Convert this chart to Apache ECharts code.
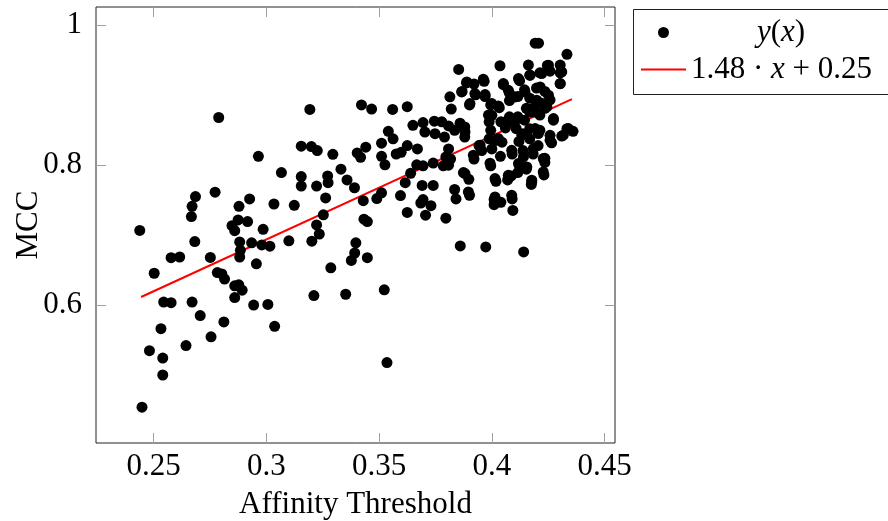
<!DOCTYPE html>
<html>
<head>
<meta charset="utf-8">
<script src="https://cdn.jsdelivr.net/npm/echarts@6/dist/echarts.min.js"></script>
<style>
  html, body { margin: 0; padding: 0; background: #fff; }
  #chart { width: 888px; height: 521px; }
</style>
</head>
<body>
<div id="chart"></div>
<script>
// affinity threshold (x) and MCC (y) of every run
var xs = [
  0.2439, 0.2449, 0.2482, 0.2503, 0.2533, 0.2541, 0.2541, 0.2545, 0.2578, 0.2578,
  0.2616, 0.2644, 0.2671, 0.2668, 0.2671, 0.2686, 0.2683, 0.2707, 0.2752, 0.2755,
  0.2773, 0.2789, 0.2783, 0.2803, 0.2815, 0.2812, 0.2848, 0.2860, 0.2875, 0.2879,
  0.2917, 0.2926, 0.2882, 0.2885, 0.2882, 0.2935, 0.2956, 0.2965, 0.2986, 0.2980,
  0.3016, 0.2860, 0.2878, 0.2893, 0.2860, 0.2944, 0.3007, 0.3037, 0.3034, 0.3067,
  0.3100, 0.3124, 0.3155, 0.3193, 0.3155, 0.3155, 0.3200, 0.3226, 0.3202, 0.3211,
  0.3223, 0.3223, 0.3235, 0.3253, 0.3263, 0.3274, 0.3272, 0.3295, 0.3286, 0.3331,
  0.3358, 0.3391, 0.3352, 0.3377, 0.3392, 0.3397, 0.3430, 0.3422, 0.3467, 0.3403,
  0.3418, 0.3441, 0.3433, 0.3448, 0.3448, 0.3490, 0.3511, 0.3523, 0.3535, 0.3511,
  0.3511, 0.3526, 0.3541, 0.3562, 0.3560, 0.3625, 0.3576, 0.3598, 0.3625, 0.3670,
  0.3640, 0.3616, 0.3595, 0.3625, 0.3667, 0.3695, 0.3691, 0.3695, 0.3685, 0.3730,
  0.3706, 0.3740, 0.3740, 0.3796, 0.3650, 0.3695, 0.3703, 0.3745, 0.3748, 0.3778,
  0.3790, 0.3808, 0.3835, 0.3880, 0.3880, 0.3808, 0.3817, 0.3785, 0.3808, 0.3820,
  0.3814, 0.3853, 0.3868, 0.3888, 0.3921, 0.3966, 0.3901, 0.3928, 0.3970, 0.3835,
  0.3841, 0.3874, 0.3898, 0.3901, 0.3921, 0.3943, 0.3955, 0.3860, 0.3973, 0.4141,
  0.3796, 0.4036, 0.4207, 0.4192, 0.4333, 0.4162, 0.4246, 0.4303, 0.4303, 0.4168,
  0.4213, 0.4258, 0.4123, 0.4051, 0.4303, 0.4078, 0.4078, 0.4115, 0.4145, 0.4168,
  0.4198, 0.4235, 0.4258, 0.4220, 0.4183, 0.4153, 0.3995, 0.4033, 0.3985, 0.3988,
  0.4040, 0.4078, 0.4115, 0.4100, 0.4145, 0.4168, 0.4213, 0.4235, 0.4273, 0.3995,
  0.4060, 0.4108, 0.4138, 0.4168, 0.4213, 0.4258, 0.4310, 0.4333, 0.4360, 0.3988,
  0.4018, 0.4045, 0.4120, 0.4168, 0.4205, 0.4265, 0.4000, 0.4038, 0.4090, 0.4138,
  0.4183, 0.4235, 0.4235, 0.3995, 0.4123, 0.4153, 0.4086, 0.4070, 0.4018, 0.4115,
  0.4231, 0.4175, 0.4010, 0.4010, 0.4040, 0.4090, 0.4093, 0.3859, 0.3881, 0.3948,
  0.3918, 0.3992, 0.3881, 0.3896, 0.4014, 0.4073, 0.4177, 0.4014, 0.4088, 0.4029,
  0.4088, 0.4140, 0.4155, 0.4118, 0.4000, 0.4059, 0.4177, 0.4192, 0.4133, 0.3889,
  0.3962, 0.3866, 0.3925, 0.3970, 0.4051, 0.4118, 0.4170, 0.3903, 0.4000, 0.4029,
  0.4073, 0.4103, 0.4147, 0.4251, 0.4310, 0.4221, 0.4303, 0.4214, 0.4251, 0.4199,
  0.4244, 0.4184, 0.4273, 0.4339, 0.4317, 0.4258, 0.4206, 0.4228, 0.4228, 0.4177,
  0.4192, 0.4184
];
var ys = [
  0.7070, 0.4546, 0.5352, 0.6458, 0.5666, 0.5246, 0.5005, 0.6047, 0.6037, 0.6680,
  0.6690, 0.5425, 0.6047, 0.7268, 0.7413, 0.7553, 0.6911, 0.5854, 0.6684, 0.5550,
  0.7616, 0.8682, 0.6467, 0.6448, 0.6375, 0.5763, 0.7138, 0.7066, 0.7220, 0.7413,
  0.7196, 0.7519, 0.6906, 0.6786, 0.6690, 0.6892, 0.6593, 0.8127, 0.7085, 0.6863,
  0.6844, 0.6279, 0.6293, 0.6216, 0.6110, 0.6004, 0.6013, 0.5700, 0.7447, 0.7896,
  0.6921, 0.7428, 0.8272, 0.8798, 0.7838, 0.7703, 0.8267, 0.8210, 0.6916, 0.6139,
  0.7703, 0.7148, 0.7017, 0.7292, 0.7534, 0.7751, 0.7847, 0.8156, 0.6535, 0.7944,
  0.7790, 0.7679, 0.6158, 0.6641, 0.6747, 0.6892, 0.7495, 0.8861, 0.8803, 0.8176,
  0.8113, 0.8258, 0.7230, 0.7196, 0.6680, 0.7524, 0.7606, 0.6221, 0.5183, 0.8316,
  0.8127, 0.8007, 0.8485, 0.8378, 0.8798, 0.8837, 0.8161, 0.8185, 0.8282, 0.8234,
  0.7886, 0.7751, 0.7568, 0.7326, 0.8007, 0.7992, 0.7712, 0.7510, 0.7461, 0.7423,
  0.7288, 0.7712, 0.8031, 0.7244, 0.8571, 0.8610, 0.8475, 0.8629, 0.8451, 0.8620,
  0.8403, 0.8562, 0.8499, 0.8547, 0.8403, 0.8234, 0.8089, 0.7992, 0.8002, 0.8803,
  0.8977, 0.9368, 0.9054, 0.9175, 0.9160, 0.9199, 0.8861, 0.9006, 0.8982, 0.7654,
  0.7519, 0.7896, 0.7799, 0.7572, 0.8089, 0.8282, 0.8210, 0.6848, 0.6834, 0.6762,
  0.8118, 0.9421, 0.9744, 0.9744, 0.9585, 0.9430, 0.9426, 0.9430, 0.9320, 0.9286,
  0.9320, 0.9344, 0.9208, 0.9151, 0.9165, 0.9030, 0.8924, 0.8982, 0.9078, 0.8958,
  0.9102, 0.9054, 0.8933, 0.8885, 0.8813, 0.8813, 0.8861, 0.8822, 0.8716, 0.8620,
  0.8620, 0.8692, 0.8692, 0.8610, 0.8644, 0.8764, 0.8716, 0.8813, 0.8644, 0.8499,
  0.8533, 0.8523, 0.8451, 0.8523, 0.8499, 0.8427, 0.8417, 0.8523, 0.8485, 0.8378,
  0.8354, 0.8330, 0.8340, 0.8378, 0.8282, 0.8320, 0.8234, 0.8127, 0.8161, 0.8210,
  0.8161, 0.8099, 0.8041, 0.7992, 0.7992, 0.7944, 0.7847, 0.7790, 0.7770, 0.7896,
  0.7862, 0.7727, 0.7510, 0.7437, 0.7471, 0.7519, 0.7355, 0.8600, 0.8476, 0.8286,
  0.8143, 0.8029, 0.7881, 0.7619, 0.7810, 0.7857, 0.7786, 0.7548, 0.7571, 0.8381,
  0.8214, 0.8119, 0.7976, 0.8024, 0.8714, 0.8619, 0.8762, 0.8524, 0.8429, 0.9190,
  0.9229, 0.9048, 0.9024, 0.9010, 0.9167, 0.9238, 0.9286, 0.8881, 0.8881, 0.8848,
  0.9071, 0.8976, 0.9048, 0.9429, 0.9333, 0.9310, 0.9167, 0.9119, 0.9000, 0.8929,
  0.8833, 0.8810, 0.8667, 0.8524, 0.8429, 0.8357, 0.8453, 0.8095, 0.7905, 0.7762,
  0.8762, 0.8238
];
// end points of the fitted line 1.48*x + 0.25
var fitX = [0.2445, 0.4355];
var fitY = [0.6119, 0.8945];
var xTicks = [0.25, 0.3, 0.35, 0.4, 0.45];
var yTicks = [0.6, 0.8, 1];

var FONT = "'Liberation Serif', 'DejaVu Serif', serif";

var points = xs.map(function (x, i) { return [x, ys[i]]; });
var fitLine = fitX.map(function (x, i) { return [x, fitY[i]]; });

var myChart = echarts.init(document.getElementById('chart'), null, { renderer: 'canvas' });

// shared axis look: box frame from grid, grey ticks pointing inwards
function xAxisCfg(pos, labels) {
  return {
    type: 'value', position: pos, min: 0.2245, max: 0.4546,
    splitLine: { show: false },
    axisLine: { show: false },
    axisTick: { show: true, inside: true, length: 10, customValues: xTicks,
      lineStyle: { color: '#a0a0a0', width: 1 } },
    axisLabel: { show: labels, customValues: xTicks, margin: 8,
      color: '#000', fontFamily: FONT, fontSize: 31 }
  };
}
function yAxisCfg(pos, labels) {
  return {
    type: 'value', position: pos, min: 0.4034, max: 1.026,
    splitLine: { show: false },
    axisLine: { show: false },
    axisTick: { show: true, inside: true, length: 10, customValues: yTicks,
      lineStyle: { color: '#a0a0a0', width: 1 } },
    axisLabel: { show: labels, customValues: yTicks, margin: 14,
      color: '#000', fontFamily: FONT, fontSize: 31 }
  };
}

var xMain = xAxisCfg('bottom', true);
xMain.name = 'Affinity Threshold';
xMain.nameLocation = 'middle';
xMain.nameGap = 46;
xMain.nameMoveOverlap = false;
xMain.nameTextStyle = { color: '#000', fontFamily: FONT, fontSize: 31 };
var yMain = yAxisCfg('left', true);
yMain.name = 'MCC';
yMain.nameLocation = 'middle';
yMain.nameGap = 52;
yMain.nameMoveOverlap = false;
yMain.nameTextStyle = { color: '#000', fontFamily: FONT, fontSize: 31 };

var option = {
  animation: false,
  backgroundColor: '#fff',
  grid: {
    left: 96, top: 7, width: 519, height: 436,
    outerBoundsMode: 'none',
    show: true, borderColor: '#222', borderWidth: 1, backgroundColor: 'transparent'
  },
  xAxis: [xMain, xAxisCfg('top', false)],
  yAxis: [yMain, yAxisCfg('right', false)],
  legend: {
    orient: 'vertical', left: 640, top: 17, padding: 0,
    itemWidth: 45, itemHeight: 11, itemGap: 6,
    data: [
      { name: 'y(x)', icon: 'circle' },
      { name: 'fit', itemStyle: { color: 'rgba(0,0,0,0)', borderWidth: 0, opacity: 0 } }
    ],
    formatter: function (name) {
      if (name === 'y(x)') return '{s| }{i|y}{n|(}{i|x}{n|)}';
      return '{n|1.48 · }{i|x}{n| + 0.25}';
    },
    textStyle: {
      color: '#000', fontFamily: FONT, fontSize: 31,
      rich: {
        s: { width: 66, fontSize: 31, fontFamily: FONT },
        n: { color: '#000', fontSize: 31, fontFamily: FONT },
        i: { color: '#000', fontSize: 31, fontFamily: FONT, fontStyle: 'italic' }
      }
    }
  },
  graphic: [{
    type: 'rect', left: 631, top: 7, z: 10,
    shape: { width: 255, height: 85 },
    style: { fill: 'none', stroke: '#222', lineWidth: 1 }
  }],
  series: [
    {
      name: 'fit', type: 'line', data: fitLine, symbol: 'none', z: 2,
      lineStyle: { color: '#ff0000', width: 2 },
      itemStyle: { color: '#ff0000' }
    },
    {
      name: 'y(x)', type: 'scatter', data: points, symbolSize: 11, z: 3,
      itemStyle: { color: '#000', opacity: 1 }
    }
  ]
};

myChart.setOption(option);
</script>
</body>
</html>
